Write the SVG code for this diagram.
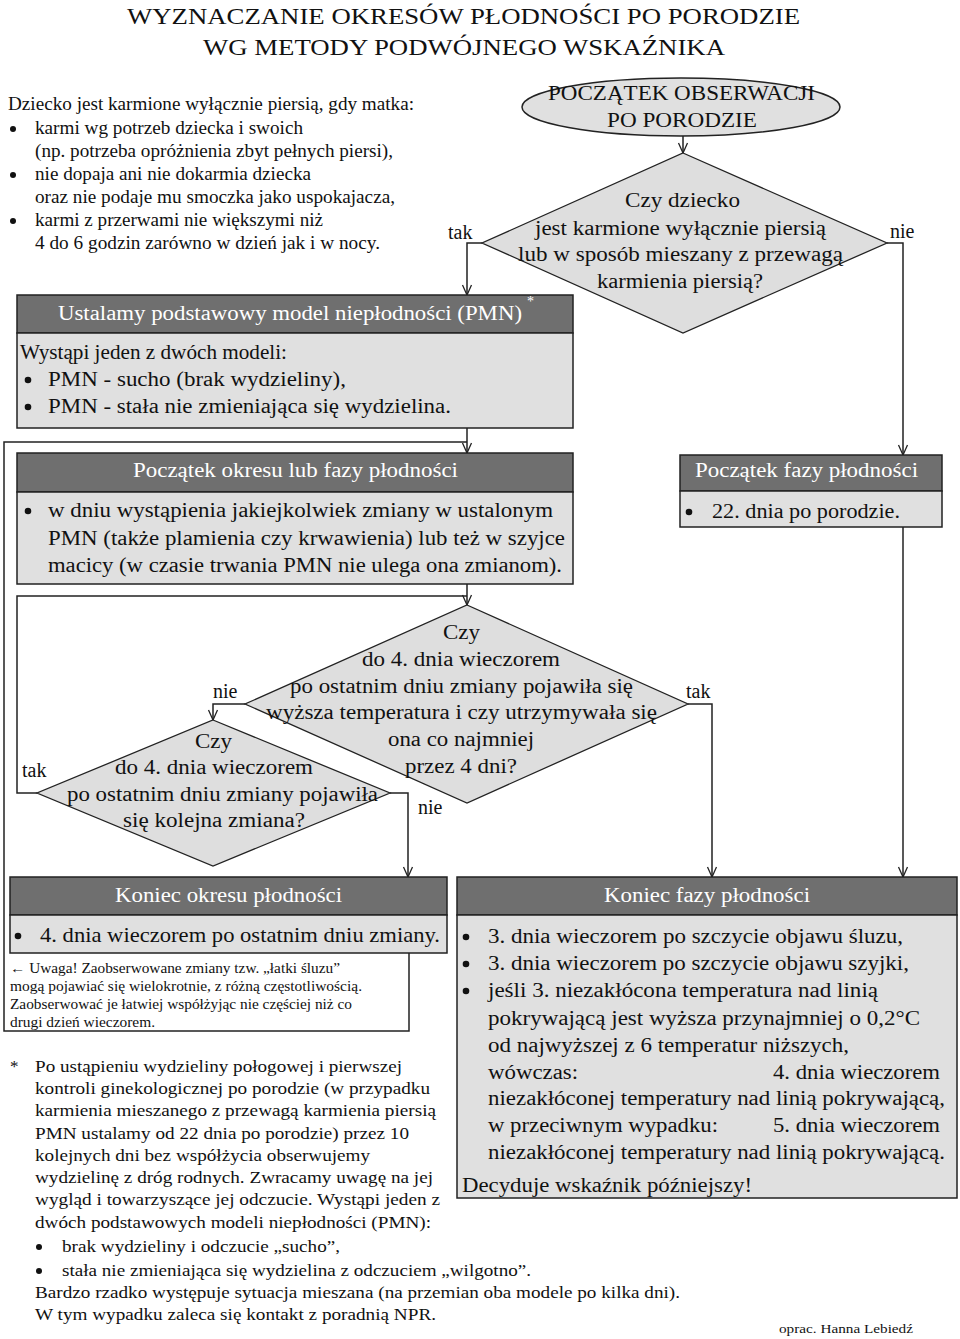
<svg xmlns="http://www.w3.org/2000/svg" width="960" height="1339" viewBox="0 0 960 1339">
<style>
text{font-family:"Liberation Serif","Times New Roman",serif;fill:#111}
.w{fill:#fff}
.hd{fill:#6f6f6f;stroke:#222;stroke-width:1.5}
.bd{fill:#e0e0e0;stroke:#222;stroke-width:1.5}
.dm{fill:#dedede;stroke:#222;stroke-width:1.3}
.c{fill:none;stroke:#222;stroke-width:1.5}
.ca{fill:none;stroke:#222;stroke-width:1.5;marker-end:url(#a)}
.b{fill:#111}
</style>
<defs>
<marker id="a" viewBox="0 0 12 12" refX="11" refY="6" markerWidth="12" markerHeight="12" markerUnits="userSpaceOnUse" orient="auto">
<path d="M1,1.5 L11,6 L1,10.5" fill="none" stroke="#222" stroke-width="1.3"/>
</marker>
</defs>
<rect width="960" height="1339" fill="#fff"/>

<g id="title">
<text x="127" y="24" font-size="24" textLength="673" lengthAdjust="spacingAndGlyphs">WYZNACZANIE OKRESÓW PŁODNOŚCI PO PORODZIE</text>
<text x="203" y="55" font-size="24" textLength="522" lengthAdjust="spacingAndGlyphs">WG METODY PODWÓJNEGO WSKAŹNIKA</text>
</g>

<g id="intro" font-size="18">
<text x="8" y="110" textLength="406" lengthAdjust="spacingAndGlyphs">Dziecko jest karmione wyłącznie piersią, gdy matka:</text>
<circle class="b" cx="13" cy="129" r="3"/>
<text x="35" y="134" textLength="268" lengthAdjust="spacingAndGlyphs">karmi wg potrzeb dziecka i swoich</text>
<text x="35" y="157" textLength="358" lengthAdjust="spacingAndGlyphs">(np. potrzeba opróżnienia zbyt pełnych piersi),</text>
<circle class="b" cx="13" cy="175" r="3"/>
<text x="35" y="180" textLength="276" lengthAdjust="spacingAndGlyphs">nie dopaja ani nie dokarmia dziecka</text>
<text x="35" y="203" textLength="360" lengthAdjust="spacingAndGlyphs">oraz nie podaje mu smoczka jako uspokajacza,</text>
<circle class="b" cx="13" cy="221" r="3"/>
<text x="35" y="226" textLength="288" lengthAdjust="spacingAndGlyphs">karmi z przerwami nie większymi niż</text>
<text x="35" y="249" textLength="345" lengthAdjust="spacingAndGlyphs">4 do 6 godzin zarówno w dzień jak i w nocy.</text>
</g>

<g id="connectors">
<path class="ca" d="M683,136 L683,153"/>
<path class="ca" d="M482,243 L467,243 L467,295"/>
<path class="ca" d="M887,243 L903,243 L903,455"/>
<path class="ca" d="M467,428 L467,453"/>
<path class="c" d="M4,953 L4,442 L467,442"/>
<path class="ca" d="M467,584 L467,605"/>
<path class="c" d="M37,793 L17,793 L17,596 L467,596"/>
<path class="ca" d="M245,704 L213,704 L213,720"/>
<path class="ca" d="M688,704 L712,704 L712,877"/>
<path class="ca" d="M390,793 L408,793 L408,877"/>
<path class="ca" d="M903,527 L903,877"/>
<g font-size="20">
<text x="448" y="239">tak</text>
<text x="890" y="238">nie</text>
<text x="213" y="698">nie</text>
<text x="686" y="698">tak</text>
<text x="22" y="777">tak</text>
<text x="418" y="814">nie</text>
</g>
</g>

<g id="start">
<ellipse class="bd" cx="681" cy="107" rx="159" ry="29"/>
<text x="548" y="100" font-size="21" textLength="267" lengthAdjust="spacingAndGlyphs">POCZĄTEK OBSERWACJI</text>
<text x="607" y="127" font-size="21" textLength="150" lengthAdjust="spacingAndGlyphs">PO PORODZIE</text>
</g>

<g id="q-feeding" font-size="20">
<polygon class="dm" points="683,153 887,243 683,333 482,243"/>
<text x="625" y="207" textLength="115" lengthAdjust="spacingAndGlyphs">Czy dziecko</text>
<text x="535" y="235" textLength="291" lengthAdjust="spacingAndGlyphs">jest karmione wyłącznie piersią</text>
<text x="518" y="261" textLength="325" lengthAdjust="spacingAndGlyphs">lub w sposób mieszany z przewagą</text>
<text x="597" y="288" textLength="166" lengthAdjust="spacingAndGlyphs">karmienia piersią?</text>
</g>

<g id="pmn" font-size="20">
<rect class="hd" x="17" y="295" width="556" height="38"/>
<rect class="bd" x="17" y="333" width="556" height="95"/>
<text class="w" x="58" y="320" textLength="464" lengthAdjust="spacingAndGlyphs">Ustalamy podstawowy model niepłodności (PMN)</text>
<text class="w" x="527" y="306" font-size="14">*</text>
<text x="20" y="359" textLength="267" lengthAdjust="spacingAndGlyphs">Wystąpi jeden z dwóch modeli:</text>
<circle class="b" cx="28" cy="380" r="3.3"/>
<text x="48" y="386" textLength="298" lengthAdjust="spacingAndGlyphs">PMN - sucho (brak wydzieliny),</text>
<circle class="b" cx="28" cy="407" r="3.3"/>
<text x="48" y="413" textLength="403" lengthAdjust="spacingAndGlyphs">PMN - stała nie zmieniająca się wydzielina.</text>
</g>

<g id="start-period" font-size="20">
<rect class="hd" x="17" y="453" width="556" height="39"/>
<rect class="bd" x="17" y="492" width="556" height="92"/>
<text class="w" x="133" y="477" textLength="325" lengthAdjust="spacingAndGlyphs">Początek okresu lub fazy płodności</text>
<circle class="b" cx="28" cy="511" r="3.3"/>
<text x="48" y="517" textLength="505" lengthAdjust="spacingAndGlyphs">w dniu wystąpienia jakiejkolwiek zmiany w ustalonym</text>
<text x="48" y="545" textLength="517" lengthAdjust="spacingAndGlyphs">PMN (także plamienia czy krwawienia) lub też w szyjce</text>
<text x="48" y="572" textLength="514" lengthAdjust="spacingAndGlyphs">macicy (w czasie trwania PMN nie ulega ona zmianom).</text>
</g>

<g id="start-phase" font-size="20">
<rect class="hd" x="680" y="455" width="262" height="36"/>
<rect class="bd" x="680" y="491" width="262" height="36"/>
<text class="w" x="695" y="477" textLength="223" lengthAdjust="spacingAndGlyphs">Początek fazy płodności</text>
<circle class="b" cx="689" cy="512" r="3.3"/>
<text x="712" y="518" textLength="188" lengthAdjust="spacingAndGlyphs">22. dnia po porodzie.</text>
</g>

<g id="q-temp" font-size="20">
<polygon class="dm" points="467,605 688,704 467,803 245,704"/>
<text x="443" y="639" textLength="37" lengthAdjust="spacingAndGlyphs">Czy</text>
<text x="362" y="666" textLength="198" lengthAdjust="spacingAndGlyphs">do 4. dnia wieczorem</text>
<text x="290" y="693" textLength="343" lengthAdjust="spacingAndGlyphs">po ostatnim dniu zmiany pojawiła się</text>
<text x="266" y="719" textLength="391" lengthAdjust="spacingAndGlyphs">wyższa temperatura i czy utrzymywała się</text>
<text x="388" y="746" textLength="146" lengthAdjust="spacingAndGlyphs">ona co najmniej</text>
<text x="405" y="773" textLength="112" lengthAdjust="spacingAndGlyphs">przez 4 dni?</text>
</g>

<g id="q-change" font-size="20">
<polygon class="dm" points="213,720 390,793 213,866 37,793"/>
<text x="195" y="748" textLength="37" lengthAdjust="spacingAndGlyphs">Czy</text>
<text x="115" y="774" textLength="198" lengthAdjust="spacingAndGlyphs">do 4. dnia wieczorem</text>
<text x="67" y="801" textLength="311" lengthAdjust="spacingAndGlyphs">po ostatnim dniu zmiany pojawiła</text>
<text x="123" y="827" textLength="182" lengthAdjust="spacingAndGlyphs">się kolejna zmiana?</text>
</g>

<g id="end-period">
<rect class="hd" x="10" y="877" width="437" height="38"/>
<rect class="bd" x="10" y="915" width="437" height="38"/>
<text class="w" x="115" y="902" font-size="20" textLength="227" lengthAdjust="spacingAndGlyphs">Koniec okresu płodności</text>
<circle class="b" cx="18" cy="936" r="3.3"/>
<text x="40" y="942" font-size="21" textLength="400" lengthAdjust="spacingAndGlyphs">4. dnia wieczorem po ostatnim dniu zmiany.</text>
</g>

<g id="note" font-size="14">
<path class="c" d="M4,953 L4,1031 L409,1031 L409,953"/>
<text x="10" y="973" textLength="330" lengthAdjust="spacingAndGlyphs">← Uwaga! Zaobserwowane zmiany tzw. „łatki śluzu”</text>
<text x="10" y="991" textLength="352" lengthAdjust="spacingAndGlyphs">mogą pojawiać się wielokrotnie, z różną częstotliwością.</text>
<text x="10" y="1009" textLength="342" lengthAdjust="spacingAndGlyphs">Zaobserwować je łatwiej współżyjąc nie częściej niż co</text>
<text x="10" y="1027" textLength="145" lengthAdjust="spacingAndGlyphs">drugi dzień wieczorem.</text>
</g>

<g id="end-phase" font-size="20">
<rect class="hd" x="457" y="877" width="500" height="38"/>
<rect class="bd" x="457" y="915" width="500" height="283"/>
<text class="w" x="604" y="902" textLength="206" lengthAdjust="spacingAndGlyphs">Koniec fazy płodności</text>
<circle class="b" cx="466" cy="937" r="3.3"/>
<text x="488" y="943" textLength="415" lengthAdjust="spacingAndGlyphs">3. dnia wieczorem po szczycie objawu śluzu,</text>
<circle class="b" cx="466" cy="964" r="3.3"/>
<text x="488" y="970" textLength="421" lengthAdjust="spacingAndGlyphs">3. dnia wieczorem po szczycie objawu szyjki,</text>
<circle class="b" cx="466" cy="991" r="3.3"/>
<text x="488" y="997" textLength="390" lengthAdjust="spacingAndGlyphs">jeśli 3. niezakłócona temperatura nad linią</text>
<text x="488" y="1025" textLength="432" lengthAdjust="spacingAndGlyphs">pokrywającą jest wyższa przynajmniej o 0,2°C</text>
<text x="488" y="1052" textLength="361" lengthAdjust="spacingAndGlyphs">od najwyższej z 6 temperatur niższych,</text>
<text x="488" y="1079" textLength="90" lengthAdjust="spacingAndGlyphs">wówczas:</text>
<text x="773" y="1079" textLength="167" lengthAdjust="spacingAndGlyphs">4. dnia wieczorem</text>
<text x="488" y="1105" textLength="457" lengthAdjust="spacingAndGlyphs">niezakłóconej temperatury nad linią pokrywającą,</text>
<text x="488" y="1132" textLength="230" lengthAdjust="spacingAndGlyphs">w przeciwnym wypadku:</text>
<text x="773" y="1132" textLength="167" lengthAdjust="spacingAndGlyphs">5. dnia wieczorem</text>
<text x="488" y="1159" textLength="457" lengthAdjust="spacingAndGlyphs">niezakłóconej temperatury nad linią pokrywającą.</text>
<text x="462" y="1192" textLength="290" lengthAdjust="spacingAndGlyphs">Decyduje wskaźnik późniejszy!</text>
</g>

<g id="footnote" font-size="17">
<text x="10" y="1072">*</text>
<text x="35" y="1072" textLength="367" lengthAdjust="spacingAndGlyphs">Po ustąpieniu wydzieliny połogowej i pierwszej</text>
<text x="35" y="1094" textLength="395" lengthAdjust="spacingAndGlyphs">kontroli ginekologicznej po porodzie (w przypadku</text>
<text x="35" y="1116" textLength="401" lengthAdjust="spacingAndGlyphs">karmienia mieszanego z przewagą karmienia piersią</text>
<text x="35" y="1139" textLength="374" lengthAdjust="spacingAndGlyphs">PMN ustalamy od 22 dnia po porodzie) przez 10</text>
<text x="35" y="1161" textLength="335" lengthAdjust="spacingAndGlyphs">kolejnych dni bez współżycia obserwujemy</text>
<text x="35" y="1183" textLength="398" lengthAdjust="spacingAndGlyphs">wydzielinę z dróg rodnych. Zwracamy uwagę na jej</text>
<text x="35" y="1205" textLength="405" lengthAdjust="spacingAndGlyphs">wygląd i towarzyszące jej odczucie. Wystąpi jeden z</text>
<text x="35" y="1228" textLength="396" lengthAdjust="spacingAndGlyphs">dwóch podstawowych modeli niepłodności (PMN):</text>
<circle class="b" cx="39" cy="1247" r="3"/>
<text x="62" y="1252" textLength="278" lengthAdjust="spacingAndGlyphs">brak wydzieliny i odczucie „sucho”,</text>
<circle class="b" cx="39" cy="1271" r="3"/>
<text x="62" y="1276" textLength="469" lengthAdjust="spacingAndGlyphs">stała nie zmieniająca się wydzielina z odczuciem „wilgotno”.</text>
<text x="35" y="1298" textLength="645" lengthAdjust="spacingAndGlyphs">Bardzo rzadko występuje sytuacja mieszana (na przemian oba modele po kilka dni).</text>
<text x="35" y="1320" textLength="401" lengthAdjust="spacingAndGlyphs">W tym wypadku zaleca się kontakt z poradnią NPR.</text>
</g>

<g id="author">
<text x="779" y="1333" font-size="13" textLength="134" lengthAdjust="spacingAndGlyphs">oprac. Hanna Lebiedź</text>
</g>
</svg>
